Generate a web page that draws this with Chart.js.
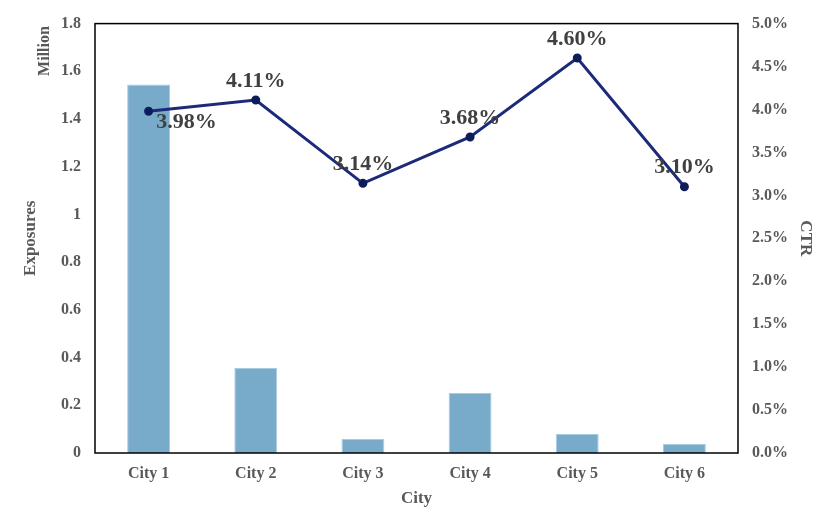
<!DOCTYPE html>
<html>
<head>
<meta charset="utf-8">
<script src="https://cdn.jsdelivr.net/npm/chart.js@4"></script>
<style>
  html, body { margin: 0; padding: 0; background: #fff; }
  #wrap { width: 830px; height: 509px; }
</style>
</head>
<body>
<div id="wrap"><canvas id="myChart"></canvas></div>
<script>
// data
var cities = ['City 1', 'City 2', 'City 3', 'City 4', 'City 5', 'City 6'];
var exposures = [1.545, 0.356, 0.059, 0.251, 0.080, 0.038];   // million
var ctr = [3.98, 4.11, 3.14, 3.68, 4.60, 3.10];               // percent
var ctrLabels = ['3.98%', '4.11%', '3.14%', '3.68%', '4.60%', '3.10%'];

var font = '"Liberation Serif", "Times New Roman", serif';
var grey = '#595959';

// box around the plot area + "Million" unit label
var boxPlugin = {
    id: 'box',
    afterDraw: function(chart) {
        var a = chart.chartArea, c = chart.ctx;
        c.save();
        c.strokeStyle = '#000';
        c.lineWidth = 1.5;
        c.strokeRect(a.left, a.top, a.right - a.left, a.bottom - a.top);
        c.translate(45, 51);
        c.rotate(-Math.PI / 2);
        c.fillStyle = grey;
        c.font = 'bold 16px ' + font;
        c.textAlign = 'center';
        c.textBaseline = 'middle';
        c.fillText('Million', 0, 0);
        c.restore();
    }
};

// percentage labels on the CTR line
var labelPlugin = {
    id: 'ctrLabels',
    afterDatasetsDraw: function(chart) {
        var meta = chart.getDatasetMeta(1), c = chart.ctx;
        c.save();
        c.fillStyle = '#404040';
        c.font = 'bold 22px ' + font;
        c.textAlign = 'center';
        c.textBaseline = 'middle';
        meta.data.forEach(function(pt, i) {
            var dx = 0, dy = -19;
            if (i === 0) { dx = 38; dy = 11; }
            c.fillText(ctrLabels[i], pt.x + dx, pt.y + dy);
        });
        c.restore();
    }
};

var ctx = document.getElementById('myChart').getContext('2d');
var myChart = new Chart(ctx, {
    data: {
        labels: cities,
        datasets: [{
            type: 'bar',
            label: 'Exposures',
            data: exposures,
            yAxisID: 'y',
            backgroundColor: '#78aaca',
            borderColor: '#a9cbe0',
            borderWidth: 1,
            categoryPercentage: 1,
            barPercentage: 0.4,
            order: 2
        }, {
            type: 'line',
            label: 'CTR',
            data: ctr,
            yAxisID: 'y1',
            borderColor: '#1c2a7a',
            borderWidth: 3,
            pointRadius: 3,
            pointBackgroundColor: '#0d1d5a',
            pointBorderColor: '#0d1d5a',
            order: 1
        }]
    },
    options: {
        responsive: true,
        maintainAspectRatio: false,
        animation: false,
        layout: { padding: { top: 15, left: 0, right: 0, bottom: 0 } },
        plugins: {
            legend: { display: false },
            tooltip: { enabled: false }
        },
        scales: {
            x: {
                grid: { display: false, drawTicks: false },
                border: { display: false },
                ticks: { color: grey, font: { family: font, size: 16, weight: 'bold' }, padding: 11 },
                title: { display: true, text: 'City', color: grey, font: { family: font, size: 17, weight: 'bold' }, padding: 0 },
                afterFit: function(s) { s.height = 56; }
            },
            y: {
                position: 'left',
                min: 0, max: 1.8,
                grid: { display: false, drawTicks: false },
                border: { display: false },
                ticks: {
                    stepSize: 0.2, padding: 14, color: grey,
                    font: { family: font, size: 16, weight: 'bold' },
                    callback: function(v) { return Math.round(v * 10) / 10; }
                },
                title: { display: true, text: 'Exposures', color: grey, font: { family: font, size: 17, weight: 'bold' }, padding: { top: 20, bottom: 0 } },
                afterFit: function(s) { s.width = 95; }
            },
            y1: {
                position: 'right',
                min: 0, max: 5,
                grid: { display: false, drawTicks: false },
                border: { display: false },
                ticks: {
                    stepSize: 0.5, padding: 14, color: grey,
                    font: { family: font, size: 16, weight: 'bold' },
                    callback: function(v) { return v.toFixed(1) + '%'; }
                },
                title: { display: true, text: 'CTR', color: grey, font: { family: font, size: 17, weight: 'bold' }, padding: { top: 14, bottom: 0 } },
                afterFit: function(s) { s.width = 92; }
            }
        }
    },
    plugins: [boxPlugin, labelPlugin]
});
</script>
</body>
</html>
